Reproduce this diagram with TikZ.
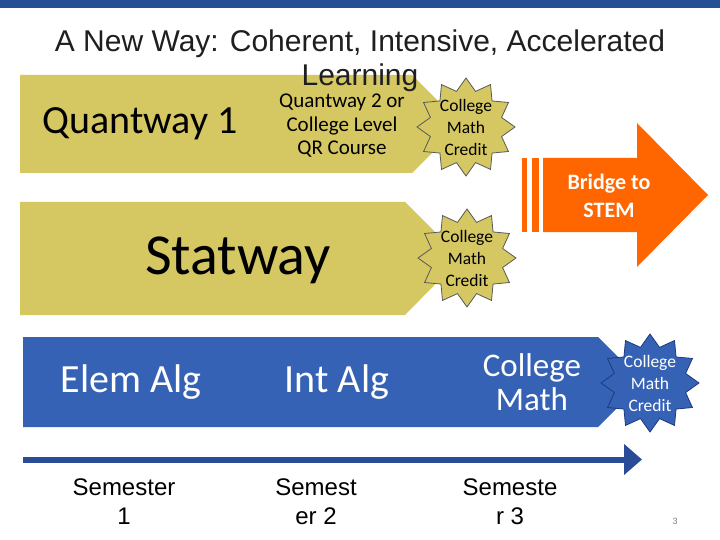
\documentclass[tikz,border=0pt]{standalone}
\usepackage{fontspec}
\setmainfont{Carlito}
\newfontfamily\arialfont{Liberation Sans}
\definecolor{barblue}{RGB}{38, 80, 150}
\definecolor{bandblue}{RGB}{54, 98, 182}
\definecolor{lineblue}{RGB}{42, 76, 152}
\definecolor{starblue}{RGB}{30, 58, 125}
\definecolor{khaki1}{RGB}{213, 199, 98}
\definecolor{bridgeorange}{RGB}{255, 102, 0}
\usetikzlibrary{shapes.geometric, arrows.meta}

\begin{document}
\begin{tikzpicture}[x=1pt, y=-1pt,
  creditstar/.style={star, star points=12, star point ratio=1.33, minimum size=98pt, inner sep=-3pt, line width=0.8pt, align=center, font=\fontsize{17.5}{22}\selectfont},
  bigtext/.style={font=\fontsize{40}{40}\selectfont},
  semtext/.style={font=\arialfont\fontsize{24}{29}\selectfont, align=center}]
  \useasboundingbox (0, 0) rectangle (720, 540);
  \fill[white] (0, 0) rectangle (720, 540);

  % Top bar
  \fill[barblue] (0, 0) rectangle (720, 8);

  % Quantway band
  \fill[khaki1] (20, 75) -- (412, 75) -- (461, 124) -- (412, 173) -- (20, 173) -- cycle;
  \node[bigtext] (qwone) at (140, 124) {Quantway 1};
  \node[font=\fontsize{21}{23.5}\selectfont, align=center] (qwtwo) at (342, 126) {Quantway 2 or\\College Level\\QR Course};
  \node[creditstar, fill=khaki1, draw=black!65] (creditq) at (466, 127) {College\\Math\\Credit};

  % Title
  \node[font=\arialfont\fontsize{30}{34}\selectfont, text=black!88, align=center] (title) at (360, 61) {A New Way: Coherent, Intensive, Accelerated\\Learning};

  % Statway band
  \fill[khaki1] (20, 202) -- (405, 202) -- (461, 258) -- (405, 315) -- (20, 315) -- cycle;
  \node[font=\fontsize{58}{58}\selectfont] (statway) at (238, 260) {Statway};
  \node[creditstar, fill=khaki1, draw=black!65] (credits) at (467, 258) {College\\Math\\Credit};

  % Bridge to STEM
  \fill[bridgeorange] (522, 158) rectangle (527, 232);
  \fill[bridgeorange] (532, 158) rectangle (539, 232);
  \fill[bridgeorange] (543, 158) -- (637, 158) -- (637, 123) -- (708, 195) -- (637, 267) -- (637, 232) -- (543, 232) -- cycle;
  \node[font=\bfseries\fontsize{22}{28}\selectfont, text=white, align=center] (bridge) at (609, 196) {Bridge to\\STEM};

  % Traditional sequence
  \fill[bandblue] (23, 337) -- (598, 337) -- (643, 382) -- (598, 427) -- (23, 427) -- cycle;
  \node[bigtext, text=white] (elemalg) at (131, 382) {Elem Alg};
  \node[bigtext, text=white] (intalg) at (337, 382) {Int Alg};
  \node[font=\fontsize{33}{34}\selectfont, text=white, align=center] (collmath) at (532, 382) {College\\Math};
  \node[creditstar, fill=bandblue, draw=starblue, text=white] (creditc) at (650, 383) {College\\Math\\Credit};

  % Timeline
  \coordinate (tstart) at (23, 459.5);
  \coordinate (tend) at (642, 459.5);
  \draw[lineblue, line width=6pt, -{Triangle[length=18pt, width=30pt]}] (tstart) -- (tend);

  \node[semtext] (semone) at (124, 502) {Semester\\1};
  \node[semtext] (semtwo) at (316, 502) {Semest\\er 2};
  \node[semtext] (semthree) at (510, 502) {Semeste\\r 3};

  \node[font=\arialfont\fontsize{9}{9}\selectfont, text=gray] (pagenum) at (675, 521) {3};
\end{tikzpicture}
\end{document}
